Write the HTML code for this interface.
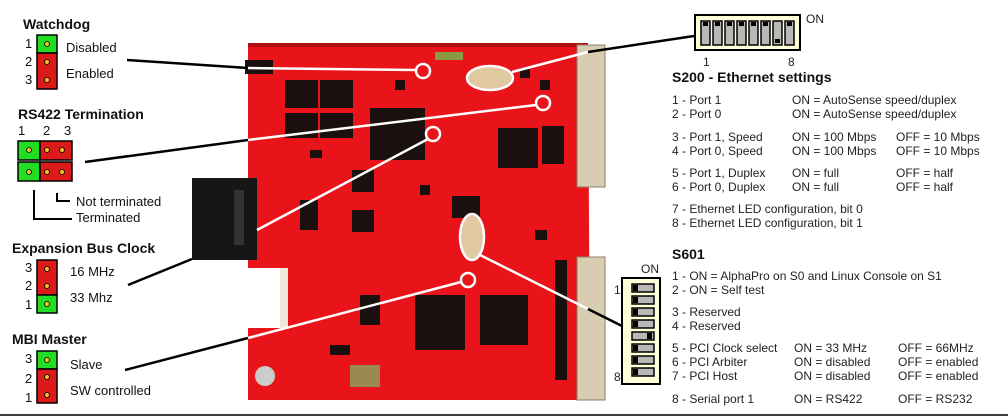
<!DOCTYPE html>
<html><head><style>
html,body{margin:0;padding:0;background:#fff;}
svg{display:block;font-family:"Liberation Sans",Arial,sans-serif;}
</style></head><body>
<svg width="1008" height="417" viewBox="0 0 1008 417" xmlns="http://www.w3.org/2000/svg">
<rect width="1008" height="417" fill="#fff"/>
<path d="M248,43 L588,43 L590,400 L248,400 L248,328 L280,328 L280,268 L248,268 Z" fill="#e8141a"/>
<rect x="248" y="268" width="32" height="60" fill="#fff"/>
<rect x="280" y="268" width="8" height="60" fill="#f0e8d8"/>
<rect x="248" y="43" width="340" height="4" fill="#b01010"/>
<rect x="577" y="45" width="28" height="142" fill="#d8cdb0" stroke="#8a7f66"/>
<rect x="577" y="257" width="28" height="143" fill="#d8cdb0" stroke="#8a7f66"/>
<rect x="192" y="178" width="65" height="82" fill="#161616"/>
<rect x="234" y="190" width="10" height="55" fill="#333"/>
<g fill="#1a1010">
<rect x="285" y="80" width="33" height="28"/><rect x="320" y="80" width="33" height="28"/>
<rect x="285" y="113" width="33" height="25"/><rect x="320" y="113" width="33" height="25"/>
<rect x="370" y="108" width="55" height="52"/>
<rect x="498" y="128" width="40" height="40"/>
<rect x="542" y="126" width="22" height="38"/>
<rect x="352" y="170" width="22" height="22"/>
<rect x="352" y="210" width="22" height="22"/>
<rect x="300" y="200" width="18" height="30"/>
<rect x="452" y="196" width="28" height="22"/>
<rect x="415" y="295" width="50" height="55"/>
<rect x="480" y="295" width="48" height="50"/>
<rect x="360" y="295" width="20" height="30"/>
<rect x="245" y="60" width="28" height="14"/>
<rect x="310" y="150" width="12" height="8"/>
<rect x="420" y="185" width="10" height="10"/>
<rect x="535" y="230" width="12" height="10"/>
<rect x="555" y="260" width="12" height="120"/>
<rect x="520" y="68" width="10" height="10"/><rect x="540" y="80" width="10" height="10"/>
<rect x="395" y="80" width="10" height="10"/>
<rect x="330" y="345" width="20" height="10"/>
</g>
<rect x="435" y="52" width="28" height="8" fill="#8a9a40"/>
<circle cx="265" cy="376" r="10" fill="#ccc"/>
<rect x="350" y="365" width="30" height="22" fill="#9a8a50"/>
<ellipse cx="490" cy="78" rx="22" ry="11" fill="#e0c8a0"/>
<ellipse cx="472" cy="237" rx="11" ry="22" fill="#e0c8a0"/>
<g fill="none" stroke="#fff" stroke-width="2.5">
<circle cx="423" cy="71" r="7"/>
<ellipse cx="490" cy="78" rx="23" ry="12"/>
<circle cx="543" cy="103" r="7"/>
<circle cx="433" cy="134" r="7"/>
<ellipse cx="472" cy="237" rx="12" ry="23"/>
<circle cx="468" cy="280" r="7"/>
<line x1="248" y1="68" x2="416" y2="70"/>
<line x1="248" y1="140" x2="536" y2="105"/>
<line x1="257" y1="230" x2="428" y2="139"/>
<line x1="248" y1="338" x2="461" y2="282"/>
<line x1="512" y1="72" x2="588" y2="52"/>
<line x1="480" y1="255" x2="588" y2="309"/>
</g>
<g stroke="#000" stroke-width="2.5" fill="none">
<line x1="127" y1="60" x2="248" y2="68"/>
<line x1="85" y1="162" x2="248" y2="140"/>
<line x1="128" y1="285" x2="192" y2="259"/>
<line x1="125" y1="370" x2="248" y2="338"/>
<line x1="588" y1="52" x2="694" y2="36"/>
<line x1="588" y1="309" x2="624" y2="327"/>
</g>
<line x1="0" y1="415" x2="1008" y2="415" stroke="#000" stroke-width="1.5"/>

<g font-size="13" fill="#111">
<text x="23" y="29" font-weight="bold" font-size="14">Watchdog</text>
<text x="25" y="48">1</text><text x="25" y="66">2</text><text x="25" y="84">3</text>
<text x="66" y="52">Disabled</text><text x="66" y="78">Enabled</text>
<text x="18" y="119" font-weight="bold" font-size="14">RS422 Termination</text>
<text x="18" y="135">1</text><text x="43" y="135">2</text><text x="64" y="135">3</text>
<text x="76" y="206">Not terminated</text><text x="76" y="222">Terminated</text>
<text x="12" y="253" font-weight="bold" font-size="14">Expansion Bus Clock</text>
<text x="25" y="272">3</text><text x="25" y="290">2</text><text x="25" y="309">1</text>
<text x="70" y="276">16 MHz</text><text x="70" y="302">33 Mhz</text>
<text x="12" y="344" font-weight="bold" font-size="14">MBI Master</text>
<text x="25" y="363">3</text><text x="25" y="383">2</text><text x="25" y="402">1</text>
<text x="70" y="369">Slave</text><text x="70" y="395">SW controlled</text>
</g>
<g stroke="#000" stroke-width="1.5">
<rect x="37" y="35" width="20" height="18" fill="#22dd22"/>
<rect x="37" y="53" width="20" height="36" fill="#dd1a1a"/>
<rect x="18" y="141" width="22" height="19" fill="#22dd22"/>
<rect x="40" y="141" width="32" height="19" fill="#dd1a1a"/>
<rect x="18" y="162" width="22" height="19" fill="#22dd22"/>
<rect x="40" y="162" width="32" height="19" fill="#dd1a1a"/>
<rect x="37" y="260" width="20" height="35" fill="#dd1a1a"/>
<rect x="37" y="295" width="20" height="18" fill="#22dd22"/>
<rect x="37" y="351" width="20" height="18" fill="#22dd22"/>
<rect x="37" y="369" width="20" height="34" fill="#dd1a1a"/>
</g>
<g fill="#f0c020" stroke="#000" stroke-width="0.8">
<circle cx="47" cy="44" r="2.5"/><circle cx="47" cy="62" r="2.5"/><circle cx="47" cy="80" r="2.5"/>
<circle cx="29" cy="150" r="2.5"/><circle cx="47" cy="150" r="2.5"/><circle cx="62" cy="150" r="2.5"/>
<circle cx="29" cy="172" r="2.5"/><circle cx="47" cy="172" r="2.5"/><circle cx="62" cy="172" r="2.5"/>
<circle cx="47" cy="269" r="2.5"/><circle cx="47" cy="286" r="2.5"/><circle cx="47" cy="304" r="2.5"/>
<circle cx="47" cy="360" r="2.5"/><circle cx="47" cy="377" r="2.5"/><circle cx="47" cy="395" r="2.5"/>
</g>
<g stroke="#000" stroke-width="2" fill="none">
<polyline points="34,190 34,219 72,219"/>
<polyline points="57,193 57,201 70,201"/>
</g>

<rect x="695" y="15" width="105" height="35" fill="#ffffd8" stroke="#000" stroke-width="2"/>
<g fill="#b8b8b8" stroke="#000" stroke-width="1.5">
<rect x="701" y="21" width="9" height="24"/><rect x="713" y="21" width="9" height="24"/>
<rect x="725" y="21" width="9" height="24"/><rect x="737" y="21" width="9" height="24"/>
<rect x="749" y="21" width="9" height="24"/><rect x="761" y="21" width="9" height="24"/>
<rect x="773" y="21" width="9" height="24"/><rect x="785" y="21" width="9" height="24"/>
</g>
<g fill="#000">
<rect x="703" y="22" width="5" height="4"/><rect x="715" y="22" width="5" height="4"/>
<rect x="727" y="22" width="5" height="4"/><rect x="739" y="22" width="5" height="4"/>
<rect x="751" y="22" width="5" height="4"/><rect x="763" y="22" width="5" height="4"/>
<rect x="775" y="39" width="5" height="4"/><rect x="787" y="22" width="5" height="4"/>
</g>
<g font-size="12" fill="#222">
<text x="806" y="23">ON</text>
<text x="703" y="66">1</text><text x="788" y="66">8</text>
<text x="672" y="82" font-weight="bold" font-size="14" fill="#111">S200 - Ethernet settings</text>
<text x="672" y="104">1 - Port 1</text><text x="792" y="104">ON = AutoSense speed/duplex</text>
<text x="672" y="118">2 - Port 0</text><text x="792" y="118">ON = AutoSense speed/duplex</text>
<text x="672" y="141">3 - Port 1, Speed</text><text x="792" y="141">ON = 100 Mbps</text><text x="896" y="141">OFF = 10 Mbps</text>
<text x="672" y="155">4 - Port 0, Speed</text><text x="792" y="155">ON = 100 Mbps</text><text x="896" y="155">OFF = 10 Mbps</text>
<text x="672" y="177">5 - Port 1, Duplex</text><text x="792" y="177">ON = full</text><text x="896" y="177">OFF = half</text>
<text x="672" y="191">6 - Port 0, Duplex</text><text x="792" y="191">ON = full</text><text x="896" y="191">OFF = half</text>
<text x="672" y="213">7 - Ethernet LED configuration, bit 0</text>
<text x="672" y="227">8 - Ethernet LED configuration, bit 1</text>
<text x="672" y="259" font-weight="bold" font-size="14" fill="#111">S601</text>
<text x="641" y="273">ON</text>
<text x="614" y="294">1</text><text x="614" y="381">8</text>
<text x="672" y="280">1 - ON = AlphaPro on S0 and Linux Console on S1</text>
<text x="672" y="294">2 - ON = Self test</text>
<text x="672" y="316">3 - Reserved</text>
<text x="672" y="330">4 - Reserved</text>
<text x="672" y="352">5 - PCI Clock select</text><text x="794" y="352">ON = 33 MHz</text><text x="898" y="352">OFF = 66MHz</text>
<text x="672" y="366">6 - PCI Arbiter</text><text x="794" y="366">ON = disabled</text><text x="898" y="366">OFF = enabled</text>
<text x="672" y="380">7 - PCI Host</text><text x="794" y="380">ON = disabled</text><text x="898" y="380">OFF = enabled</text>
<text x="672" y="403">8 - Serial port 1</text><text x="794" y="403">ON = RS422</text><text x="898" y="403">OFF = RS232</text>
</g>
<rect x="622" y="278" width="38" height="106" fill="#ffffd8" stroke="#000" stroke-width="2"/>
<g fill="#b8b8b8" stroke="#000" stroke-width="1.5">
<rect x="632" y="284" width="22" height="8"/><rect x="632" y="296" width="22" height="8"/>
<rect x="632" y="308" width="22" height="8"/><rect x="632" y="320" width="22" height="8"/>
<rect x="632" y="332" width="22" height="8"/><rect x="632" y="344" width="22" height="8"/>
<rect x="632" y="356" width="22" height="8"/><rect x="632" y="368" width="22" height="8"/>
</g>
<g fill="#000">
<rect x="633" y="285" width="5" height="6"/><rect x="633" y="297" width="5" height="6"/>
<rect x="633" y="309" width="5" height="6"/><rect x="633" y="321" width="5" height="6"/>
<rect x="647" y="333" width="5" height="6"/><rect x="633" y="345" width="5" height="6"/>
<rect x="633" y="357" width="5" height="6"/><rect x="633" y="369" width="5" height="6"/>
</g>
</svg>
</body></html>
